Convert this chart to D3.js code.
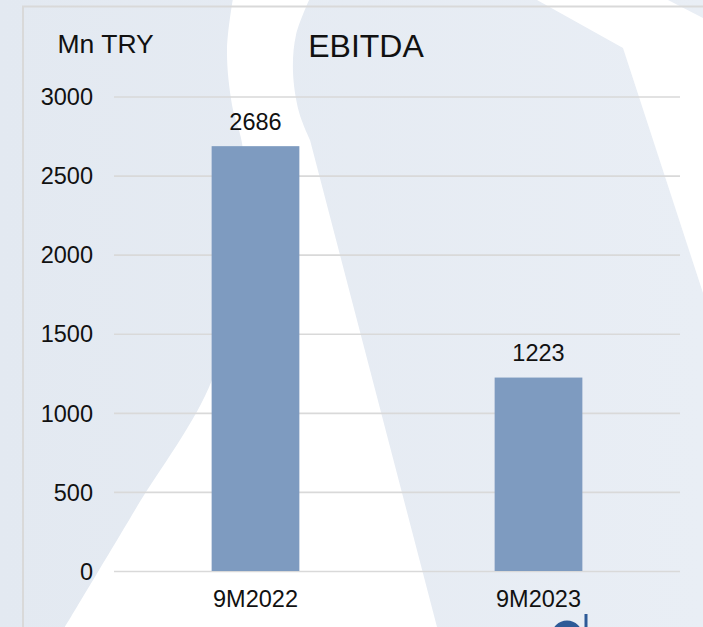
<!DOCTYPE html>
<html>
<head>
<meta charset="utf-8">
<script src="https://cdn.jsdelivr.net/npm/d3@7"></script>
<style>
  html, body { margin: 0; padding: 0; background: #fff; }
  svg { display: block; font-family: "Liberation Sans", Arial, sans-serif; }
</style>
</head>
<body>
<div class="chart"></div>
<script>
const categories = ['9M2022', '9M2023'];
const ebitda = [2686, 1223];
const yTicks = [0, 500, 1000, 1500, 2000, 2500, 3000];
const title = 'EBITDA';
const unit = 'Mn TRY';

(() => {
    const width = 703,
          height = 627;

    const svg = d3.select('.chart')
        .append('svg')
        .attr('width', width)
        .attr('height', height);

    // watermark background
    const grad = svg.append('defs').append('linearGradient')
        .attr('id', 'bg')
        .attr('x1', 0).attr('x2', 1).attr('y1', 0).attr('y2', 0);
    grad.append('stop').attr('offset', 0).attr('stop-color', '#e3e9f1');
    grad.append('stop').attr('offset', 1).attr('stop-color', '#e9eef5');

    svg.append('rect')
        .attr('width', width)
        .attr('height', height)
        .attr('fill', 'url(#bg)');

    const curve = d3.line().curve(d3.curveCatmullRom);
    const leftEdge = curve([[233, -2], [227, 50], [232, 105], [243, 150], [238, 260], [212, 380], [135, 510], [65, 627]]);
    const rightEdge = curve([[310, 140], [299, 112], [293, 72], [296, 35], [310, -2]]);
    svg.append('path')
        .attr('d', leftEdge + 'L65,630L437,630L437,627L310,140' + rightEdge.slice(rightEdge.indexOf('C')) + 'Z')
        .attr('fill', '#fff');

    svg.append('path')
        .attr('d', 'M537,0L623,48L703,293L703,18L668,0Z')
        .attr('fill', '#fff');

    // chart frame
    svg.append('path')
        .attr('d', 'M23,627V6.5H703')
        .attr('fill', 'none')
        .attr('stroke', '#d9d9d9')
        .attr('stroke-width', 2);

    const x = d3.scaleBand()
        .domain(categories)
        .range([114, 680])
        .paddingInner(0.69)
        .paddingOuter(0.345);

    const y = d3.scaleLinear()
        .domain([0, 3000])
        .range([571, 96.5]);

    const yAxis = svg.append('g')
        .attr('transform', 'translate(114,0)')
        .call(d3.axisLeft(y).tickValues(yTicks).tickFormat(d3.format('d')).tickSize(-566).tickPadding(21));
    yAxis.select('.domain').remove();
    yAxis.selectAll('.tick line')
        .attr('stroke', '#d9d9d9')
        .attr('stroke-width', 1.6);
    yAxis.selectAll('.tick text')
        .attr('font-family', '"Liberation Sans", Arial, sans-serif')
        .attr('font-size', 23.5)
        .attr('fill', '#111')
        .attr('dy', '0.35em');

    const xAxis = svg.append('g')
        .attr('transform', 'translate(0,571)')
        .call(d3.axisBottom(x).tickSize(0).tickPadding(19));
    xAxis.select('.domain').remove();
    xAxis.selectAll('.tick text')
        .attr('font-family', '"Liberation Sans", Arial, sans-serif')
        .attr('font-size', 23.5)
        .attr('fill', '#111');

    svg.selectAll('.bar')
        .data(ebitda)
        .enter().append('rect')
        .attr('class', 'bar')
        .attr('x', (d, i) => x(categories[i]))
        .attr('y', d => y(d))
        .attr('width', x.bandwidth())
        .attr('height', d => y(0) - y(d))
        .attr('fill', '#7e9bc0');

    svg.selectAll('.label')
        .data(ebitda)
        .enter().append('text')
        .attr('class', 'label')
        .attr('x', (d, i) => x(categories[i]) + x.bandwidth() / 2)
        .attr('y', d => y(d) - 16.5)
        .attr('text-anchor', 'middle')
        .attr('font-size', 23.5)
        .attr('fill', '#111')
        .text(d => d);

    svg.append('text')
        .attr('x', 366)
        .attr('y', 56.5)
        .attr('text-anchor', 'middle')
        .attr('font-size', 32)
        .attr('fill', '#111')
        .text(title);

    svg.append('text')
        .attr('x', 57.5)
        .attr('y', 52.7)
        .attr('font-size', 26.5)
        .attr('fill', '#111')
        .text(unit);

    // logo fragment peeking at the bottom
    svg.append('circle')
        .attr('cx', 567)
        .attr('cy', 636)
        .attr('r', 12)
        .attr('fill', 'none')
        .attr('stroke', '#2d5a97')
        .attr('stroke-width', 7);
    svg.append('rect')
        .attr('x', 584.5)
        .attr('y', 614)
        .attr('width', 3)
        .attr('height', 14)
        .attr('fill', '#2d5a97');
})();
</script>
</body>
</html>
